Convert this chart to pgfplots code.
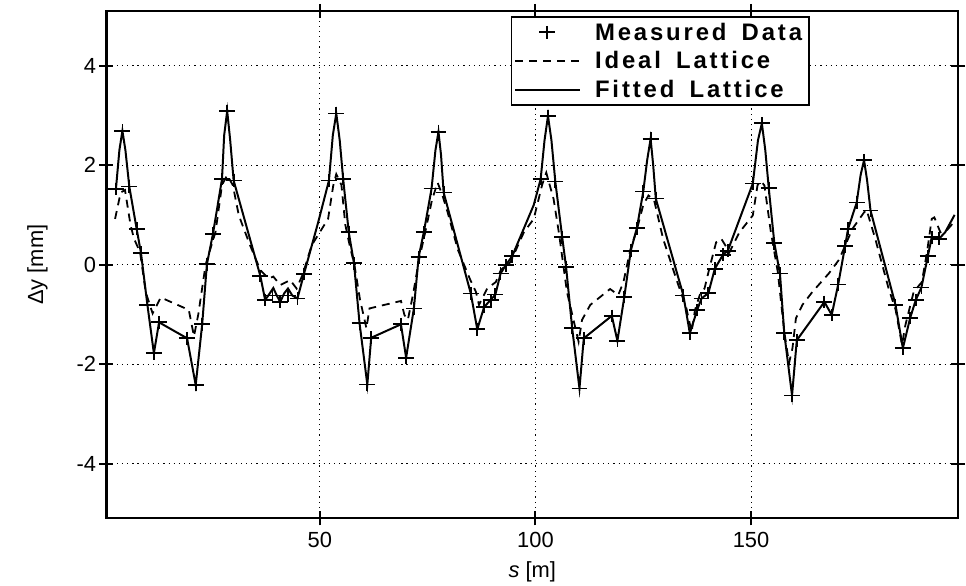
\documentclass[border=0pt]{standalone}
\usepackage{fontspec}
\setmainfont{Liberation Sans}
\newfontfamily\legfont{Liberation Sans}[LetterSpace=12, WordSpace=1.6]
\usepackage{pgfplots}
\pgfplotsset{compat=1.18}

\pgfplotstableread{
x y
2.7 1.52
4.2 2.69
5.8 1.57
7.5 0.72
8.5 0.24
10.0 -0.81
11.5 -1.78
12.7 -1.16
19.2 -1.48
21.2 -2.42
22.7 -1.2
23.8 0.01
25.2 0.62
27.3 1.72
28.5 3.09
30.0 1.69
36.2 -0.23
37.3 -0.71
39.0 -0.62
40.8 -0.75
42.6 -0.62
44.8 -0.68
46.3 -0.19
52.1 1.69
53.8 3.04
55.4 1.72
56.7 0.65
57.9 0.03
59.2 -1.18
61.0 -2.41
61.9 -1.47
68.8 -1.2
70.0 -1.87
71.8 -0.88
72.9 0.15
74.1 0.65
75.9 1.53
77.5 2.67
78.7 1.45
85.0 -0.58
86.5 -1.3
88.1 -0.85
89.6 -0.71
90.7 -0.6
91.9 -0.18
93.1 -0.01
94.6 0.17
101.2 1.72
102.9 2.99
104.6 1.67
106.2 0.55
107.1 -0.05
108.5 -1.27
110.2 -2.49
111.2 -1.48
117.7 -1.03
119.0 -1.53
120.6 -0.65
122.1 0.28
123.5 0.73
125.0 1.47
126.7 2.53
127.9 1.33
134.3 -0.62
135.8 -1.38
137.5 -0.91
138.5 -0.68
140.1 -0.57
141.6 -0.08
143.5 0.2
144.6 0.28
150.4 1.63
152.5 2.84
154.1 1.54
155.4 0.43
156.7 -0.18
157.7 -1.38
159.5 -2.63
160.6 -1.52
167.0 -0.75
168.7 -1.01
170.2 -0.4
171.8 0.37
172.5 0.72
174.5 1.25
176.2 2.1
177.7 1.09
183.5 -0.81
185.2 -1.68
186.9 -1.07
188.2 -0.71
189.5 -0.46
191.0 0.17
191.9 0.55
193.6 0.52
}\measured

\pgfplotstableread{
x y
2.5 0.92
3.8 1.45
4.8 1.5
6.1 0.79
6.9 0.52
8.3 0.25
9.6 -0.55
11.2 -0.98
13.1 -0.66
19.6 -0.91
20.8 -1.44
21.8 -1.0
23.5 0.0
25.8 0.66
27.3 1.6
28.5 1.8
29.8 1.6
31.2 0.99
33.8 0.39
36.2 -0.11
38.1 -0.28
39.2 -0.24
40.8 -0.41
43.1 -0.31
44.6 -0.48
46.0 -0.2
48.1 0.39
51.9 0.92
53.1 1.59
53.8 1.82
55.0 1.6
55.9 0.8
56.9 0.39
58.0 0.0
59.3 -0.7
60.8 -1.28
61.5 -0.88
68.8 -0.73
69.6 -1.01
70.4 -1.11
71.6 -0.6
73.0 0.1
74.3 0.6
76.0 1.3
77.3 1.65
78.4 1.4
79.6 1.06
82.0 0.3
84.9 -0.31
86.2 -0.55
86.9 -0.81
88.8 -0.48
90.8 -0.35
92.0 -0.1
94.2 0.05
97.3 0.65
99.6 0.92
101.5 1.59
102.5 1.85
104.2 1.32
105.5 0.6
107.3 -0.55
110.0 -1.55
110.8 -1.11
112.7 -0.81
117.3 -0.49
119.2 -0.61
120.4 -0.35
122.0 0.3
123.5 0.7
125.0 1.2
126.2 1.39
127.5 1.3
129.6 0.52
132.7 -0.3
135.0 -0.88
136.2 -1.35
137.0 -0.91
138.1 -0.61
139.2 -0.48
140.4 -0.05
141.9 0.45
143.1 0.52
145.0 0.25
147.3 0.65
150.4 0.99
151.5 1.6
152.3 1.68
153.1 1.59
154.6 0.65
156.2 -0.15
157.7 -1.35
158.8 -1.98
159.6 -1.68
160.4 -1.08
161.9 -0.81
164.2 -0.55
168.1 -0.17
170.4 0.1
173.5 0.72
176.2 1.05
176.8 1.1
178.8 0.52
181.9 -0.48
183.5 -0.9
185.0 -1.61
185.8 -1.21
187.7 -0.55
189.6 -0.35
190.8 0.25
191.9 0.92
192.5 0.95
193.9 0.65
195.5 0.7
197.0 0.85
}\ideal

\pgfplotstableread{
x y
2.7 1.52
3.5 2.3
4.2 2.69
4.9 2.3
5.8 1.57
7.5 0.72
8.5 0.24
10.0 -0.81
11.5 -1.78
12.7 -1.16
19.2 -1.48
21.2 -2.42
22.7 -1.2
23.8 0.01
25.2 0.62
27.3 1.72
27.8 2.6
28.5 3.09
29.2 2.5
30.0 1.69
36.2 -0.23
37.3 -0.71
38.2 -0.6
39.2 -0.47
40.0 -0.62
40.8 -0.75
41.7 -0.58
42.6 -0.48
43.6 -0.62
44.8 -0.68
46.3 -0.19
49.6 0.85
52.1 1.69
53.0 2.6
53.8 3.04
54.6 2.5
55.4 1.72
56.7 0.65
57.9 0.03
59.2 -1.18
61.0 -2.41
61.9 -1.47
68.8 -1.2
70.0 -1.87
71.8 -0.88
72.9 0.15
74.1 0.65
75.9 1.53
76.8 2.3
77.5 2.67
78.1 2.2
78.7 1.45
85.0 -0.58
86.5 -1.3
88.1 -0.85
89.6 -0.71
90.7 -0.6
91.9 -0.18
93.1 -0.01
94.6 0.17
99.6 1.2
101.2 1.72
102.1 2.5
102.9 2.99
103.7 2.5
104.6 1.67
106.2 0.55
107.1 -0.05
108.5 -1.27
110.2 -2.49
111.2 -1.48
117.7 -1.03
119.0 -1.53
120.6 -0.65
122.1 0.28
123.5 0.73
125.0 1.47
125.9 2.1
126.7 2.53
127.3 2.0
127.9 1.33
134.3 -0.62
135.8 -1.38
137.5 -0.91
138.5 -0.68
140.1 -0.57
141.6 -0.08
143.5 0.2
144.6 0.28
150.4 1.63
151.6 2.5
152.5 2.84
153.3 2.3
154.1 1.54
155.4 0.43
156.7 -0.18
157.7 -1.38
159.5 -2.63
160.6 -1.52
167.0 -0.75
168.7 -1.01
170.2 -0.4
171.8 0.37
172.5 0.72
174.5 1.25
175.4 1.8
176.2 2.1
176.9 1.7
177.7 1.09
183.5 -0.81
185.2 -1.68
186.9 -1.07
188.2 -0.71
189.5 -0.46
191.0 0.17
191.9 0.55
193.6 0.52
195.0 0.65
197.2 1.0
}\fitted

\begin{document}
\begin{tikzpicture}
\begin{axis}[
  scale only axis,
  width=856pt, height=510pt,
  xmin=0.5, xmax=198, ymin=-5.1, ymax=5.1,
  xtick={50,100,150}, ytick={-4,-2,0,2,4},
  grid=major,
  grid style={black, line width=1pt, dash pattern=on 1.2pt off 4pt},
  axis line style={line width=2.2pt},
  tick style={black, line width=2pt},
  tick align=center, major tick length=14pt,
  /pgf/number format/assume math mode=true,
  tick label style={font=\fontsize{22}{24}\selectfont},
  label style={font=\fontsize{22}{24}\selectfont},
  xticklabel shift=3pt,
  xlabel={\textit{s} [m]}, xlabel shift=8pt,
  ylabel={Δy [mm]}, ylabel shift=22pt,
  clip=false,
  legend cell align=left,
  legend style={at={(rel axis cs:0.826,0.990)}, anchor=north east,
    draw=black, line width=1.6pt, fill=white,
    font=\legfont\bfseries\fontsize{24}{26}\selectfont,
    inner xsep=3pt, inner ysep=4pt, row sep=6pt,
    nodes={inner xsep=4pt},
    /tikz/every odd column/.append style={column sep=10pt}},
  legend image code/.code={\draw[mark repeat=2,mark phase=2,#1]
    plot coordinates {(0pt,0pt) (32pt,0pt) (65pt,0pt)};},
]
\path (rel axis cs:-0.125,-0.1275) rectangle (rel axis cs:1.0035,1.0216);
\addplot[only marks, mark=+, mark size=8pt, mark options={line width=1.8pt, yscale=0.8}] table {\measured};
\addplot[black, line width=1.8pt, dash pattern=on 8pt off 6pt] table {\ideal};
\addplot[black, line width=2pt] table {\fitted};
\legend{Measured Data, Ideal Lattice, Fitted Lattice}
\end{axis}
\end{tikzpicture}
\end{document}
